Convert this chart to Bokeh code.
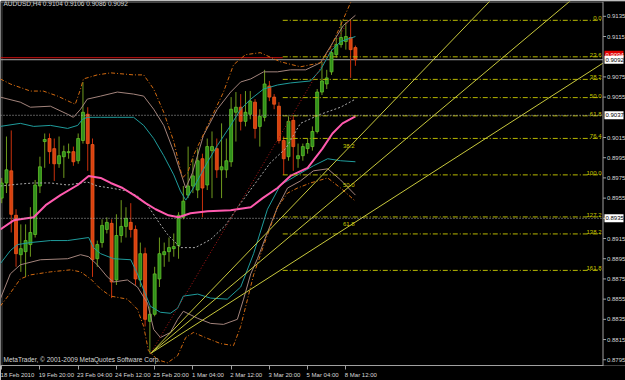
from bokeh.plotting import figure
from bokeh.models import ColumnDataSource, FixedTicker, Label, Range1d
from bokeh.core.properties import value
from bokeh.embed import file_html
from bokeh.resources import INLINE

# ---------------- data ----------------
symbol_title = "AUDUSD,H4  0.9104 0.9106 0.9086 0.9092"
copyright_text = "MetaTrader, \u00a9 2001-2009 MetaQuotes Software Corp."

bar_open = [0.8955, 0.8970, 0.8982, 0.8938, 0.8899, 0.8902, 0.8909, 0.8919, 0.8967, 0.9011,
            0.9014, 0.9004, 0.8989, 0.8996, 0.9000, 0.9001, 0.8992, 0.9012, 0.9038, 0.9008,
            0.8895, 0.8911, 0.8924, 0.8930, 0.8874, 0.8918, 0.8927, 0.8931, 0.8924, 0.8874,
            0.8900, 0.8833, 0.8840, 0.8875, 0.8899, 0.8902, 0.8905, 0.8908, 0.8936, 0.8958,
            0.8967, 0.8963, 0.8994, 0.8968, 0.9002, 0.9004, 0.8983, 0.8983, 0.8991, 0.9040,
            0.9045, 0.9031, 0.9038, 0.9050, 0.9026, 0.9035, 0.9066, 0.9055, 0.9046, 0.9012,
            0.8996, 0.9032, 0.8994, 0.8997, 0.9004, 0.9006, 0.9021, 0.9060, 0.9068, 0.9080,
            0.9097, 0.9107, 0.9110, 0.9114, 0.9104]
bar_high = [0.8975, 0.9016, 0.9022, 0.8944, 0.8929, 0.8929, 0.8946, 0.8973, 0.8996, 0.9019,
            0.9019, 0.9014, 0.9016, 0.9007, 0.9009, 0.9006, 0.9019, 0.9070, 0.9045, 0.9014,
            0.8913, 0.8934, 0.8936, 0.8934, 0.8939, 0.8953, 0.8946, 0.8950, 0.8928, 0.8911,
            0.8906, 0.8848, 0.8887, 0.8916, 0.8911, 0.8916, 0.8920, 0.8941, 0.8967, 0.9006,
            0.8994, 0.9004, 0.8999, 0.9014, 0.9021, 0.9014, 0.9029, 0.9014, 0.9055, 0.9060,
            0.9058, 0.9061, 0.9061, 0.9053, 0.9043, 0.9082, 0.9071, 0.9058, 0.9050, 0.9016,
            0.9036, 0.9036, 0.9009, 0.9009, 0.9014, 0.9026, 0.9063, 0.9090, 0.9082, 0.9102,
            0.9114, 0.9131, 0.9129, 0.9131, 0.9106]
bar_low = [0.8950, 0.8960, 0.8921, 0.8887, 0.8882, 0.8877, 0.8897, 0.8916, 0.8960, 0.8985,
           0.8989, 0.8972, 0.8985, 0.8975, 0.8994, 0.8987, 0.8989, 0.9009, 0.8982, 0.8877,
           0.8887, 0.8906, 0.8920, 0.8856, 0.8869, 0.8911, 0.8916, 0.8916, 0.8869, 0.8867,
           0.8828, 0.8801, 0.8838, 0.8867, 0.8887, 0.8892, 0.8897, 0.8895, 0.8934, 0.8955,
           0.8960, 0.8955, 0.8936, 0.8963, 0.8955, 0.8975, 0.8955, 0.8975, 0.8986, 0.9011,
           0.9022, 0.9026, 0.9033, 0.9014, 0.9006, 0.9031, 0.9051, 0.9043, 0.9009, 0.8978,
           0.8992, 0.8982, 0.8985, 0.8992, 0.8999, 0.9002, 0.9019, 0.9057, 0.9063, 0.9077,
           0.9094, 0.9104, 0.9102, 0.9074, 0.9086]
bar_close = [0.8970, 0.8983, 0.8939, 0.8900, 0.8905, 0.8913, 0.8921, 0.8968, 0.8986, 0.9013,
             0.9001, 0.8989, 0.8997, 0.9001, 0.9001, 0.8991, 0.9014, 0.9040, 0.9009, 0.8894,
             0.8909, 0.8928, 0.8931, 0.8872, 0.8918, 0.8927, 0.8935, 0.8924, 0.8875, 0.8900,
             0.8835, 0.8840, 0.8880, 0.8900, 0.8902, 0.8906, 0.8907, 0.8938, 0.8952, 0.8967,
             0.8977, 0.8992, 0.8965, 0.9006, 0.9006, 0.8983, 0.8986, 0.8992, 0.9043, 0.9045,
             0.9031, 0.9040, 0.9051, 0.9024, 0.9036, 0.9068, 0.9055, 0.9048, 0.9012, 0.8994,
             0.9031, 0.9006, 0.8997, 0.9006, 0.9009, 0.9021, 0.9060, 0.9071, 0.9074, 0.9099,
             0.9107, 0.9114, 0.9115, 0.9102, 0.9092]

time_tick_bars = [0, 8, 16, 24, 32, 40, 48, 56, 64, 72]
time_tick_labels = ["18 Feb 2010", "19 Feb 20:00", "23 Feb 04:00", "24 Feb 12:00", "25 Feb 20:00",
                    "1 Mar 04:00", "2 Mar 12:00", "3 Mar 20:00", "5 Mar 04:00", "8 Mar 12:00"]

price_ticks = [0.9135, 0.9115, 0.9075, 0.9055, 0.9015, 0.8995, 0.8975, 0.8955,
               0.8935, 0.8915, 0.8895, 0.8875, 0.8855, 0.8835, 0.8815, 0.8795]

bid_price = 0.9092
ask_price = 0.9094
hline_prices = [0.9037, 0.8935]

fib_levels = [0.0, 23.6, 38.2, 50.0, 61.8, 76.4, 100.0, 127.2, 138.2, 161.8]
fib_high = 0.9131
fib_low = 0.8978
fib_start_bar = 58.8

fan_levels = [38.2, 50.0, 61.8]
fan_low_bar = 31.1
fan_low = 0.8801
fan_high_bar = 72.6
fan_high = 0.9131

# pink moving average
ma_bar = [-0.3, 2.5, 6.7, 9.2, 12.3, 15.9, 18.2, 20.7, 22.8, 25.3, 28.0, 30.1, 32.2, 34.9,
          37.0, 39.5, 43.1, 47.9, 52.1, 54.6, 57.7, 60.4, 64.0, 67.1, 69.2, 71.3, 74.0]
ma_price = [0.8924, 0.8933, 0.8936, 0.8948, 0.8958, 0.8968, 0.8977, 0.8975, 0.8970, 0.8965,
            0.8957, 0.8950, 0.8944, 0.8938, 0.8936, 0.8940, 0.8942, 0.8943, 0.8946, 0.8955,
            0.8965, 0.8977, 0.8985, 0.9004, 0.9019, 0.9029, 0.9036]

# grey dotted middle band
mid_bar = [-0.3, 3.9, 6.7, 10.2, 13.8, 17.9, 20.0, 22.8, 26.3, 28.4, 30.5, 32.6, 34.7, 37.4,
           40.5, 43.7, 46.8, 50.0, 53.1, 56.2, 59.4, 62.5, 66.7, 70.9, 74.0]
mid_price = [0.8967, 0.8969, 0.8970, 0.8970, 0.8968, 0.8971, 0.8967, 0.8965, 0.8962, 0.8957,
             0.8948, 0.8933, 0.8919, 0.8906, 0.8906, 0.8914, 0.8928, 0.8950, 0.8970, 0.8990,
             0.9004, 0.9029, 0.9038, 0.9045, 0.9053]

# teal band
teal_up_bar = [-0.3, 3.9, 6.7, 10.2, 13.8, 15.9, 16.9, 17.9, 20.7, 24.2, 27.6, 29.7, 31.8, 33.9,
               36.0, 37.4, 38.5, 40.1, 43.1, 45.1, 47.9, 50.0, 52.1, 54.8, 57.7, 60.4, 64.6,
               66.7, 68.8, 70.9, 74.0]
teal_up_price = [0.9026, 0.9029, 0.9026, 0.9027, 0.9024, 0.9027, 0.9033, 0.9035, 0.9035, 0.9035,
                 0.9035, 0.9027, 0.9014, 0.8997, 0.8978, 0.8962, 0.8953, 0.8965, 0.8991, 0.9007,
                 0.9027, 0.9043, 0.9053, 0.9063, 0.9067, 0.9069, 0.9071, 0.9082, 0.9100, 0.9110,
                 0.9115]
teal_lo_bar = [-0.3, 1.8, 3.3, 6.0, 10.2, 13.8, 18.2, 19.2, 20.7, 23.4, 27.0, 28.4, 29.7, 31.1,
               33.2, 35.3, 36.8, 38.0, 41.0, 43.7, 47.2, 50.0, 52.7, 55.6, 58.3, 61.9, 65.2,
               68.2, 70.9, 74.0]
teal_lo_price = [0.8890, 0.8903, 0.8909, 0.8911, 0.8913, 0.8913, 0.8916, 0.8906, 0.8900, 0.8895,
                 0.8894, 0.8880, 0.8864, 0.8848, 0.8842, 0.8841, 0.8846, 0.8858, 0.8860, 0.8856,
                 0.8855, 0.8867, 0.8900, 0.8944, 0.8968, 0.8978, 0.8987, 0.8994, 0.8992, 0.8991]

# rosy band
rosy_up_bar = [-0.3, 3.9, 6.0, 10.2, 13.8, 15.0, 16.5, 17.9, 20.7, 24.2, 27.6, 29.7, 31.8, 33.9,
               36.0, 37.8, 38.5, 39.9, 42.2, 45.1, 47.9, 50.0, 52.1, 54.8, 57.7, 60.4, 63.6,
               66.7, 69.4, 71.5, 74.0]
rosy_up_price = [0.9055, 0.9050, 0.9045, 0.9046, 0.9038, 0.9035, 0.9043, 0.9053, 0.9056, 0.9060,
                 0.9058, 0.9056, 0.9043, 0.9027, 0.9001, 0.8975, 0.8965, 0.8980, 0.9017, 0.9043,
                 0.9060, 0.9070, 0.9073, 0.9080, 0.9080, 0.9082, 0.9082, 0.9089, 0.9110, 0.9126,
                 0.9136]
rosy_lo_bar = [-0.3, 1.8, 3.9, 8.1, 13.8, 16.5, 18.2, 20.0, 22.1, 23.4, 26.3, 28.4, 30.5, 31.8,
               33.2, 35.3, 36.8, 38.0, 41.0, 43.7, 46.4, 49.3, 50.6, 52.1, 53.5, 55.6, 57.7,
               59.8, 62.5, 65.2, 68.2, 70.9, 74.0]
rosy_lo_price = [0.8855, 0.8880, 0.8889, 0.8894, 0.8895, 0.8899, 0.8897, 0.8889, 0.8877, 0.8872,
                 0.8874, 0.8867, 0.8851, 0.8825, 0.8817, 0.8822, 0.8835, 0.8843, 0.8836, 0.8831,
                 0.8830, 0.8835, 0.8855, 0.8880, 0.8895, 0.8921, 0.8946, 0.8965, 0.8972, 0.8982,
                 0.8984, 0.8973, 0.8958]

# orange dash-dot band
orng_up_bar = [-0.3, 1.8, 6.0, 8.7, 11.7, 14.4, 15.4, 16.5, 17.1, 20.0, 22.8, 27.6, 29.7, 31.8,
               33.9, 36.0, 37.8, 38.9, 40.1, 43.7, 46.4, 48.5, 51.0, 54.1, 58.3, 62.5, 66.7,
               68.8, 70.9, 73.4]
orng_up_price = [0.9073, 0.9068, 0.9061, 0.9061, 0.9056, 0.9050, 0.9048, 0.9063, 0.9073, 0.9077,
                 0.9079, 0.9077, 0.9077, 0.9063, 0.9040, 0.9011, 0.8975, 0.8980, 0.8997, 0.9033,
                 0.9060, 0.9087, 0.9097, 0.9099, 0.9090, 0.9085, 0.9089, 0.9104, 0.9126, 0.9153]
orng_lo_bar = [-0.3, 1.8, 3.9, 6.0, 10.2, 14.4, 16.5, 18.6, 20.7, 22.8, 26.3, 28.4, 29.7, 30.7,
               32.6, 34.7, 36.8, 38.5, 40.1, 43.1, 45.8, 48.5, 50.0, 52.7, 54.8, 57.7, 59.8,
               61.9, 64.6, 68.2, 70.9, 74.0]
orng_lo_price = [0.8848, 0.8861, 0.8875, 0.8879, 0.8882, 0.8884, 0.8882, 0.8875, 0.8865, 0.8858,
                 0.8855, 0.8845, 0.8828, 0.8804, 0.8795, 0.8792, 0.8799, 0.8817, 0.8822, 0.8816,
                 0.8811, 0.8809, 0.8828, 0.8879, 0.8908, 0.8946, 0.8960, 0.8965, 0.8970, 0.8975,
                 0.8965, 0.8952]

# ---------------- layout / styling constants ----------------
FONT = "'Liberation Sans Narrow', 'Liberation Sans', sans-serif"
TXT = "#d8d8d8"
AXC = "#a0a0a0"
PXB = 4.78            # pixels per bar
PXP = 10240.0         # pixels per price unit
X0 = -0.25
XR = X0 + 625 / PXB   # frame spans the whole width; price scale is drawn inside it
AX = X0 + 602.5 / PXB # x of the price-scale line
YB, YT = 0.87893, 0.914965


def bx(px):
    return px / PXB


def text_px(s):
    return sum(1.37 if ch in " :.," else 2.74 for ch in s)


p = figure(width=625, height=380, x_range=Range1d(X0, XR), y_range=Range1d(YB, YT),
           toolbar_location=None, output_backend="svg",
           background_fill_color="#000000", border_fill_color="#000000",
           min_border_left=0, min_border_right=0, min_border_top=1, min_border_bottom=10)
p.xgrid.visible = False
p.ygrid.visible = False
p.yaxis.visible = False
p.outline_line_color = None

# time axis: labels sit to the right of their tick marks
label_centers = [round(b + bx(2 + text_px(t) / 2), 3) for b, t in zip(time_tick_bars, time_tick_labels)]
xa = p.xaxis[0]
xa.bounds = (X0, AX)
xa.ticker = FixedTicker(ticks=label_centers, minor_ticks=time_tick_bars)
xa.major_label_overrides = {c: t for c, t in zip(label_centers, time_tick_labels)}
xa.major_tick_out = 0
xa.major_tick_in = 0
xa.minor_tick_out = 4
xa.minor_tick_in = 0
xa.major_label_standoff = 2
xa.major_label_text_font_size = "6px"
xa.major_label_text_font = FONT
xa.major_label_text_color = TXT
xa.axis_line_color = AXC
xa.minor_tick_line_color = AXC

# frame border (top / left dotted)
p.segment(x0=[X0], y0=[YT - 1.0 / PXP], x1=[AX], y1=[YT - 1.0 / PXP], line_color="#8c8c8c", line_dash="1 1")
p.segment(x0=[X0 + bx(1.5)], y0=[YB], x1=[X0 + bx(1.5)], y1=[YT], line_color="#8c8c8c", line_dash="1 1")

# bid / ask lines
p.segment(x0=[X0], y0=[ask_price], x1=[fib_start_bar], y1=[ask_price], line_color="#d01010", line_width=1)
p.segment(x0=[X0], y0=[bid_price], x1=[AX], y1=[bid_price], line_color="#a8a8a8", line_width=1)

# candles
n = len(bar_open)
up = [c >= o for o, c in zip(bar_open, bar_close)]
src = ColumnDataSource(dict(
    x=list(range(n)), h=bar_high, l=bar_low,
    top=[max(o, c) for o, c in zip(bar_open, bar_close)],
    bot=[min(o, c) for o, c in zip(bar_open, bar_close)],
    wick=["#6f9a1e" if u else "#c8300c" for u in up],
    body=["#2f8f1c" if u else "#d8400f" for u in up],
    edge=["#62c02a" if u else "#ee5a1e" for u in up],
))
p.segment(x0="x", y0="l", x1="x", y1="h", source=src, line_color="wick", line_width=1)
p.vbar(x="x", top="top", bottom="bot", width=0.62, source=src, fill_color="body", line_color="edge", line_width=0.8)

# indicator lines
p.line(rosy_up_bar, rosy_up_price, line_color="#a3847c", line_width=1)
p.line(rosy_lo_bar, rosy_lo_price, line_color="#a3847c", line_width=1)
p.line(teal_up_bar, teal_up_price, line_color="#1f9c9c", line_width=1)
p.line(teal_lo_bar, teal_lo_price, line_color="#1f9c9c", line_width=1)
p.line(orng_up_bar, orng_up_price, line_color="#d26a10", line_width=1, line_dash="4 2 1 2")
p.line(orng_lo_bar, orng_lo_price, line_color="#d26a10", line_width=1, line_dash="4 2 1 2")
p.line(mid_bar, mid_price, line_color="#a9a9a9", line_width=1, line_dash="2 2")
p.line(ma_bar, ma_price, line_color="#ff5aae", line_width=2)

# fibonacci retracement
fib_prices = [fib_high - lv / 100.0 * (fib_high - fib_low) for lv in fib_levels]
nf = len(fib_prices)
p.segment(x0=[fib_start_bar] * nf, y0=fib_prices, x1=[AX] * nf, y1=fib_prices,
          line_color="#b8b800", line_width=1, line_dash="5 2 1 2")
p.text(x=[AX - bx(1.5)] * nf, y=fib_prices, text=[f"{lv:.1f}" for lv in fib_levels],
       text_align="right", text_baseline="bottom", text_font_size="6px", text_color="#c8c800",
       text_font=value(FONT))

# fibonacci fan
fan_mid = [fan_high - lv / 100.0 * (fan_high - fan_low) for lv in fan_levels]
fan_end = [fan_low + (m - fan_low) / (fan_high_bar - fan_low_bar) * (AX - fan_low_bar) for m in fan_mid]
p.segment(x0=[fan_low_bar] * 3, y0=[fan_low] * 3, x1=[AX] * 3, y1=fan_end, line_color="#c8c83c", line_width=1)
p.text(x=[fan_high_bar] * 3, y=fan_mid, text=[f"{lv:.1f}" for lv in fan_levels],
       text_align="center", text_baseline="bottom", text_font_size="6px", text_color="#c8c800",
       text_font=value(FONT))
p.segment(x0=[fan_low_bar], y0=[fan_low], x1=[fan_high_bar], y1=[fan_high], line_color="#b01818",
          line_width=1, line_dash="1 2")

# user horizontal lines
nh = len(hline_prices)
p.segment(x0=[X0] * nh, y0=hline_prices, x1=[AX] * nh, y1=hline_prices,
          line_color="#b0b0b0", line_width=1, line_dash="1 2")

# price scale (drawn on the chart's own scales)
p.segment(x0=[AX], y0=[YB], x1=[AX], y1=[YT], line_color=AXC, line_width=1)
npt = len(price_ticks)
p.segment(x0=[AX] * npt, y0=price_ticks, x1=[AX + bx(3)] * npt, y1=price_ticks, line_color=AXC, line_width=1)
hidden = set(round(v, 4) for v in hline_prices)
shown = [v for v in price_ticks if round(v, 4) not in hidden]
p.text(x=[AX + bx(4)] * len(shown), y=shown, text=[f"{v:.4f}" for v in shown],
       text_align="left", text_baseline="middle", text_font_size="6px", text_color=TXT,
       text_font=value(FONT))

box_prices = [ask_price + 3.0 / PXP, bid_price, hline_prices[0], hline_prices[1]]
box_texts = [f"{ask_price:.4f}", f"{bid_price:.4f}", f"{hline_prices[0]:.4f}", f"{hline_prices[1]:.4f}"]
box_fill = ["#e00000", "#ffffff", "#ffffff", "#ffffff"]
box_txt = ["#ffffff", "#000000", "#000000", "#000000"]
p.rect(x=[AX + bx(11)] * 4, y=box_prices, width=19, height=8, width_units="screen", height_units="screen",
       fill_color=box_fill, line_color=None)
p.text(x=[AX + bx(2.5)] * 4, y=box_prices, text=box_texts, text_align="left", text_baseline="middle",
       text_font_size="6px", text_color=box_txt, text_font=value(FONT))

# texts
p.add_layout(Label(x=3, y=366, x_units="screen", y_units="screen", text=symbol_title,
                   text_baseline="top", text_align="left", text_font_size="6.5px", text_color=TXT, text_font=FONT))
p.add_layout(Label(x=3, y=6, x_units="screen", y_units="screen", text=copyright_text,
                   text_baseline="middle", text_align="left", text_font_size="6.5px", text_color=TXT, text_font=FONT))

open("out.html", "w").write(file_html(p, INLINE))
